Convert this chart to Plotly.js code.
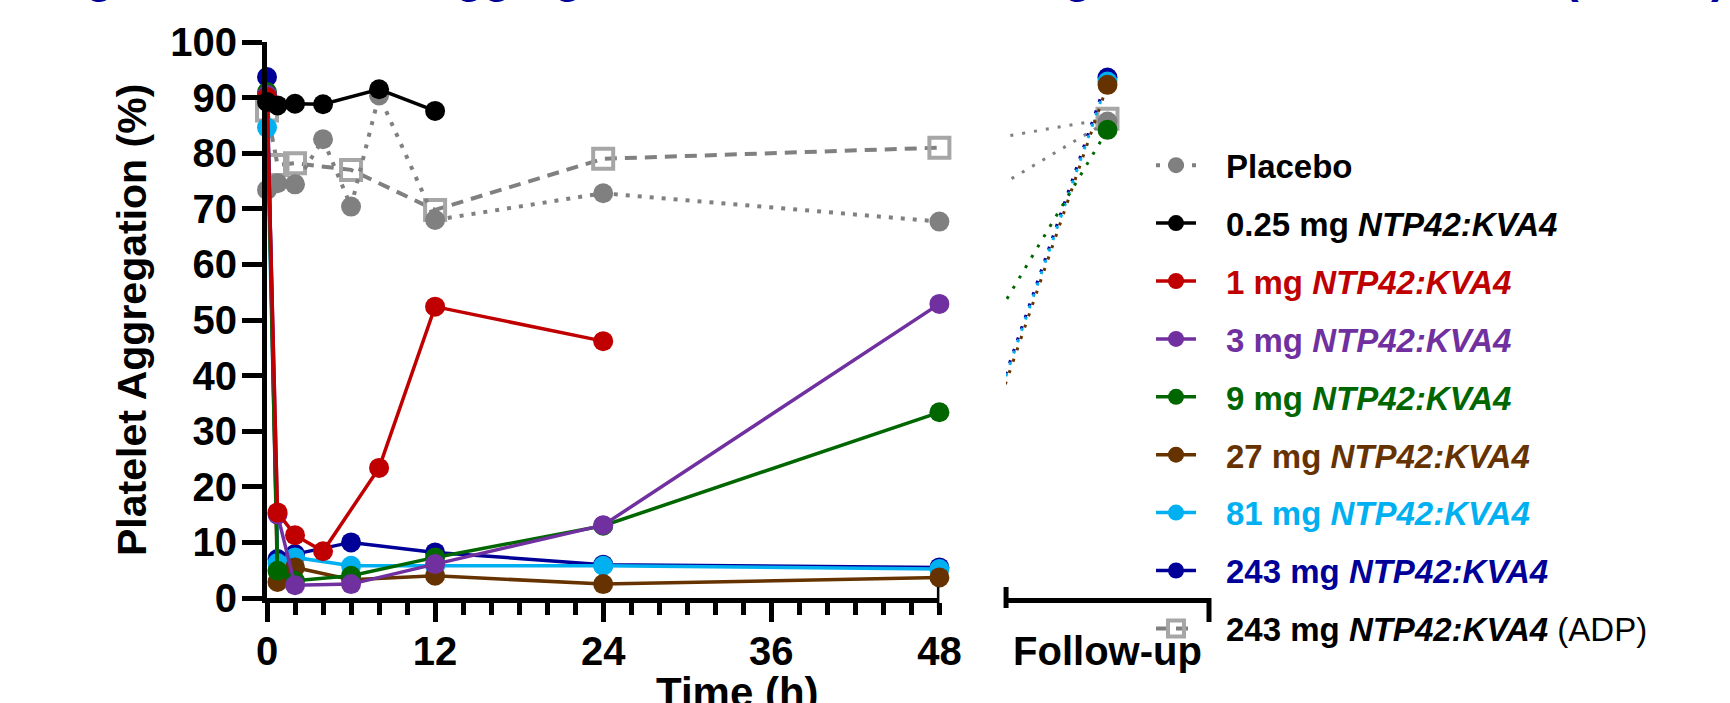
<!DOCTYPE html>
<html>
<head>
<meta charset="utf-8">
<script src="https://cdn.plot.ly/plotly-3.0.1.min.js"></script>
<style>
  html, body { margin: 0; padding: 0; background: #ffffff; }
  #chart { width: 1730px; height: 703px; }
</style>
</head>
<body>
<div id="chart"></div>
<script>
// ---------------- data ----------------
const placeboTime = [0, 0.75, 2, 4, 6, 8, 12, 24, 48];
const placeboVal  = [73.4, 74.6, 74.4, 82.5, 70.4, 90.4, 68.0, 72.8, 67.7];

const dose025Time = [0, 0.75, 2, 4, 8, 12];
const dose025Val  = [89.2, 88.6, 88.9, 88.8, 91.5, 87.6];

const dose1Time = [0, 0.75, 2, 4, 8, 12, 24];
const dose1Val  = [90.1, 15.4, 11.3, 8.4, 23.4, 52.4, 46.2];

const laterTime = [0, 0.75, 2, 6, 12, 24, 48];
const dose3Val   = [90.5, 15.0, 2.3, 2.5, 6.1, 13.1, 52.9];
const dose9Val   = [91.0, 4.9, 3.1, 4.0, 7.3, 13.0, 33.4];
const dose27Val  = [90.5, 2.9, 5.5, 3.3, 4.0, 2.5, 3.7];
const dose81Val  = [84.6, 6.3, 7.3, 5.8, 5.8, 5.8, 5.2];
const dose243Val = [93.7, 7.0, 7.9, 10.0, 8.2, 6.0, 5.5];
const adpVal     = [87.7, 77.9, 78.2, 77.0, 69.8, 79.0, 81.0];

// follow-up visit (plotted at the break position of the time axis)
const followUpPos = 60;
const followUpPlacebo = 85.7;
const followUp9   = 84.2;
const followUp27  = 92.3;
const followUp81  = 92.9;
const followUp243 = 93.6;
const followUpAdp = 86.2;

const seriesNames = [
  'Placebo',
  '0.25 mg <i>NTP42:KVA4</i>',
  '1 mg <i>NTP42:KVA4</i>',
  '3 mg <i>NTP42:KVA4</i>',
  '9 mg <i>NTP42:KVA4</i>',
  '27 mg <i>NTP42:KVA4</i>',
  '81 mg <i>NTP42:KVA4</i>',
  '243 mg <i>NTP42:KVA4</i>',
  '243 mg <i>NTP42:KVA4</i> <span style="font-weight:normal">(ADP)</span>'
];
const seriesColors = ['#808080', '#000000', '#c00000', '#7030a0', '#006600',
                      '#663300', '#00b0f0', '#000099', '#808080'];
const labelColors  = ['#000000', '#000000', '#c00000', '#7030a0', '#006600',
                      '#663300', '#00b0f0', '#000099', '#000000'];

const xTickVals = [0, 12, 24, 36, 48];
const xTickText = ['0', '12', '24', '36', '48'];
const xMinorVals = [2, 4, 6, 8, 10, 14, 16, 18, 20, 22, 26, 28, 30, 32, 34, 38, 40, 42, 44, 46];
const xLongTickVals = [0, 12, 24, 36];
const yTickVals = [0, 10, 20, 30, 40, 50, 60, 70, 80, 90, 100];
const followUpLabel = 'Follow-up';

// ---------------- helpers ----------------
function label(i) {
  return '\u00a0\u00a0\u2009<span style="color:' + labelColors[i] + '">' + seriesNames[i] + '</span>';
}
function mainTrace(i, xs, ys, opts) {
  const t = {
    x: xs, y: ys, xaxis: 'x', yaxis: 'y',
    type: 'scatter', mode: 'lines+markers',
    name: label(i), legendgroup: 'g' + i, legendrank: i + 1,
    cliponaxis: false,
    line: { color: seriesColors[i], width: 3.5 },
    marker: { color: seriesColors[i], size: 20, symbol: 'circle' },
    hoverinfo: 'x+y'
  };
  return Object.assign(t, opts || {});
}
function followTrace(i, from, to, col, markerOpts) {
  return {
    x: [48, followUpPos], y: [from, to], xaxis: 'x2', yaxis: 'y',
    type: 'scatter', mode: 'lines+markers', showlegend: false,
    legendgroup: 'g' + i,
    line: { color: col, width: 3, dash: '3px,9px' },
    marker: Object.assign({ color: col, size: 20, symbol: 'circle' }, markerOpts || {}),
    hoverinfo: 'x+y'
  };
}

const grey = '#808080';
const adpMarker = { symbol: 'square-open', color: '#a6a6a6', size: 20, line: { color: '#a6a6a6', width: 4 } };

// drawing order (bottom -> top) as in the reference
const traces = [
  mainTrace(8, laterTime, adpVal, { line: { color: grey, width: 4, dash: '12px,8px' }, marker: adpMarker }),
  followTrace(8, adpVal[adpVal.length - 1], followUpAdp, grey, adpMarker),
  mainTrace(0, placeboTime, placeboVal, { line: { color: grey, width: 4, dash: '4px,8px' } }),
  followTrace(0, placeboVal[placeboVal.length - 1], followUpPlacebo, grey),
  mainTrace(7, laterTime, dose243Val),
  followTrace(7, dose243Val[dose243Val.length - 1], followUp243, seriesColors[7]),
  mainTrace(6, laterTime, dose81Val),
  followTrace(6, dose81Val[dose81Val.length - 1], followUp81, seriesColors[6]),
  mainTrace(5, laterTime, dose27Val),
  followTrace(5, dose27Val[dose27Val.length - 1], followUp27, seriesColors[5]),
  mainTrace(4, laterTime, dose9Val),
  followTrace(4, dose9Val[dose9Val.length - 1], followUp9, seriesColors[4]),
  mainTrace(3, laterTime, dose3Val),
  mainTrace(2, dose1Time, dose1Val),
  mainTrace(1, dose025Time, dose025Val),
  // carrier for the long major ticks of the time axis
  { x: [], y: [], xaxis: 'x3', yaxis: 'y', type: 'scatter', mode: 'markers', showlegend: false, hoverinfo: 'skip' }
];

// ---------------- layout ----------------
const FONT = '"Liberation Sans", Arial, Helvetica, sans-serif';
const plotL = 266.7, plotR = 1209, plotT = 41.7, plotB = 598;
const W = 1730, H = 703;
const plotW = plotR - plotL;
const leftEnd = 939.3, rightStart = 1006;
const pxPerHour = (leftEnd - plotL) / 48;
const x2Range = [48 + (rightStart - leftEnd) / pxPerHour, 48 + (plotR - leftEnd) / pxPerHour];

const tickFont = { family: FONT, size: 40, color: '#000000', weight: 'bold' };

const layout = {
  width: W, height: H,
  paper_bgcolor: '#ffffff', plot_bgcolor: 'rgba(0,0,0,0)',
  margin: { l: plotL, r: W - plotR, t: plotT, b: H - plotB, pad: 0, autoexpand: false },
  showlegend: true,
  font: { family: FONT, color: '#000000' },
  xaxis: {
    domain: [0, (leftEnd - plotL) / plotW], range: [0, 48], anchor: 'y',
    showline: true, linecolor: '#000000', linewidth: 5,
    showgrid: false, zeroline: false,
    tickmode: 'array', tickvals: xTickVals, ticktext: xTickText,
    ticks: 'outside', ticklen: 12, tickwidth: 5, tickcolor: '#000000',
    ticklabelstandoff: 2,
    tickfont: tickFont,
    minor: { tickmode: 'array', tickvals: xMinorVals, ticks: 'outside', ticklen: 12, tickwidth: 5, tickcolor: '#000000', showgrid: false },
    fixedrange: true
  },
  xaxis3: {
    overlaying: 'x', range: [0, 48], anchor: 'y',
    showline: false, showgrid: false, zeroline: false,
    tickmode: 'array', tickvals: xLongTickVals,
    ticks: 'outside', ticklen: 23, tickwidth: 5, tickcolor: '#000000',
    showticklabels: false, fixedrange: true
  },
  xaxis2: {
    domain: [(rightStart - plotL) / plotW, 1], range: x2Range, anchor: 'y',
    showline: true, linecolor: '#000000', linewidth: 5,
    showgrid: false, zeroline: false,
    tickmode: 'array', tickvals: [followUpPos], ticktext: [followUpLabel],
    ticks: 'outside', ticklen: 12, tickwidth: 5, tickcolor: 'rgba(0,0,0,0)',
    ticklabelstandoff: 2,
    tickfont: tickFont, fixedrange: true
  },
  yaxis: {
    domain: [0, 1], range: [0, 100], anchor: 'x',
    showline: true, linecolor: '#000000', linewidth: 5,
    showgrid: false, zeroline: false,
    tickmode: 'array', tickvals: yTickVals,
    ticks: 'outside', ticklen: 20, tickwidth: 5, tickcolor: '#000000',
    ticklabelstandoff: -3,
    tickfont: tickFont, fixedrange: true
  },
  legend: {
    x: (1151 - plotL) / plotW, xanchor: 'left',
    y: 1 - (137 - plotT) / (plotB - plotT), yanchor: 'top',
    bgcolor: 'rgba(0,0,0,0)', borderwidth: 0,
    font: { family: FONT, size: 33, color: '#000000', weight: 'bold' },
    tracegroupgap: 12, itemsizing: 'trace', itemwidth: 40, valign: 'middle'
  },
  shapes: [
    // broken-axis end caps
    { type: 'line', xref: 'x', x0: 48, x1: 48, yref: 'paper', ysizemode: 'pixel', yanchor: 0, y0: 11, y1: -10, line: { color: '#000000', width: 5 } },
    { type: 'line', xref: 'x2 domain', x0: 0, x1: 0, yref: 'paper', ysizemode: 'pixel', yanchor: 0, y0: 11, y1: -10, line: { color: '#000000', width: 5 } },
    { type: 'line', xref: 'x2 domain', x0: 1, x1: 1, yref: 'paper', ysizemode: 'pixel', yanchor: 0, y0: 0, y1: -24, line: { color: '#000000', width: 5 } }
  ],
  annotations: [
    {
      text: 'Platelet Aggregation (%)', textangle: -90,
      xref: 'paper', x: 0, xanchor: 'center', xshift: -135,
      yref: 'paper', y: 0.5, yanchor: 'middle', yshift: 0,
      showarrow: false, borderpad: 0,
      font: { family: FONT, size: 41, color: '#000000', weight: 'bold' }
    },
    {
      text: 'Time (h)',
      xref: 'paper', x: (737.5 - plotL) / plotW, xanchor: 'center',
      yref: 'paper', y: 0, yanchor: 'top', yshift: -70,
      showarrow: false, borderpad: 0,
      font: { family: FONT, size: 42, color: '#000000', weight: 'bold' }
    },
    {
      text: 'Figure 3: Platelet Aggregation Ex Vivo Following Inhaled <i>NTP42:KVA4</i> (Part A)',
      xref: 'paper', x: (44 - plotL) / plotW, xanchor: 'left',
      yref: 'paper', y: 1, yanchor: 'bottom', yshift: 39,
      showarrow: false, borderpad: 0,
      font: { family: FONT, size: 45.5, color: '#000099', weight: 'bold' }
    }
  ]
};

Plotly.newPlot('chart', traces, layout, { displayModeBar: false, staticPlot: true });
</script>
</body>
</html>
